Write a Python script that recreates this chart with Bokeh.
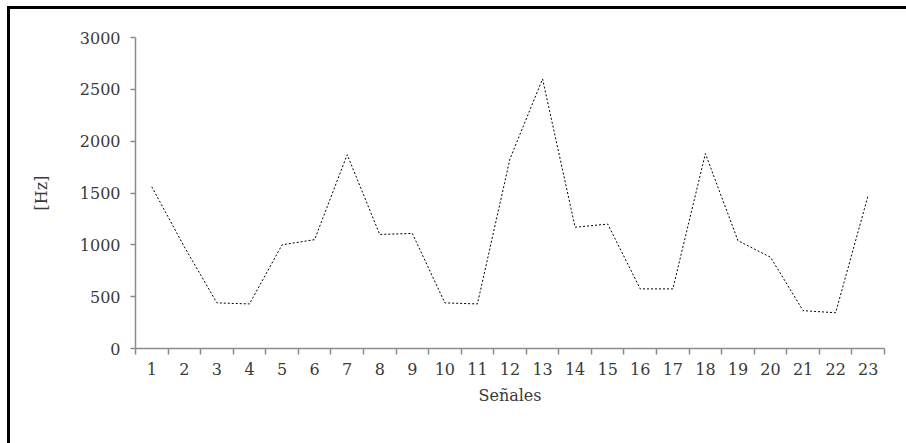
from bokeh.plotting import figure
from bokeh.models import FixedTicker, Range1d
from bokeh.embed import file_html
from bokeh.resources import INLINE

senales = list(range(1, 24))
hz = [1560, 980, 440, 430, 1000, 1050, 1870, 1100, 1110, 440, 430, 1830,
      2600, 1170, 1200, 575, 575, 1880, 1040, 880, 365, 345, 1480]
y_ticks = [0, 500, 1000, 1500, 2000, 2500, 3000]
x_label = "Señales"
y_label = "[Hz]"

FONT = "DejaVu Serif"
TXT = "#3a3a3a"
AX = "#8c8c8c"

p = figure(width=906, height=443, output_backend="svg", toolbar_location=None,
           x_range=Range1d(0.5, len(senales) + 0.5), y_range=Range1d(0, 3000),
           min_border_left=135, min_border_right=22, min_border_top=37,
           min_border_bottom=95)
# outer chart frame: only its top and left edges fall inside the crop
p.styles = {"background": "linear-gradient(black, black) 7px 6px / 899px 3px no-repeat, "
                          "linear-gradient(black, black) 7px 6px / 3px 437px no-repeat, white"}
p.border_fill_color = None
p.background_fill_color = None
p.outline_line_color = None
p.grid.visible = False

p.line(senales, hz, line_color="black", line_width=1, line_dash="2 2")

xa = p.xaxis[0]
xa.ticker = FixedTicker(ticks=senales, minor_ticks=[s - 0.5 for s in senales] + [senales[-1] + 0.5])
xa.major_tick_line_color = None
xa.major_tick_out = 5
xa.major_tick_in = 0
xa.minor_tick_line_color = AX
xa.minor_tick_line_width = 1.5
xa.minor_tick_out = 6
xa.minor_tick_in = 0
xa.major_label_standoff = 8
xa.axis_label = x_label
xa.axis_label_standoff = 8

ya = p.yaxis[0]
ya.ticker = FixedTicker(ticks=y_ticks)
ya.minor_tick_line_color = None
ya.major_tick_line_color = AX
ya.major_tick_line_width = 1.5
ya.major_tick_out = 5
ya.major_tick_in = 0
ya.major_label_standoff = 10
ya.axis_label = y_label
ya.axis_label_standoff = 26

for ax in (xa, ya):
    ax.axis_line_color = AX
    ax.axis_line_width = 1.5
    ax.major_label_text_font = FONT
    ax.major_label_text_font_size = "16px"
    ax.major_label_text_color = TXT
    ax.axis_label_text_font = FONT
    ax.axis_label_text_font_size = "16px"
    ax.axis_label_text_font_style = "normal"
    ax.axis_label_text_color = TXT

open("out.html", "w").write(file_html(p, INLINE))
